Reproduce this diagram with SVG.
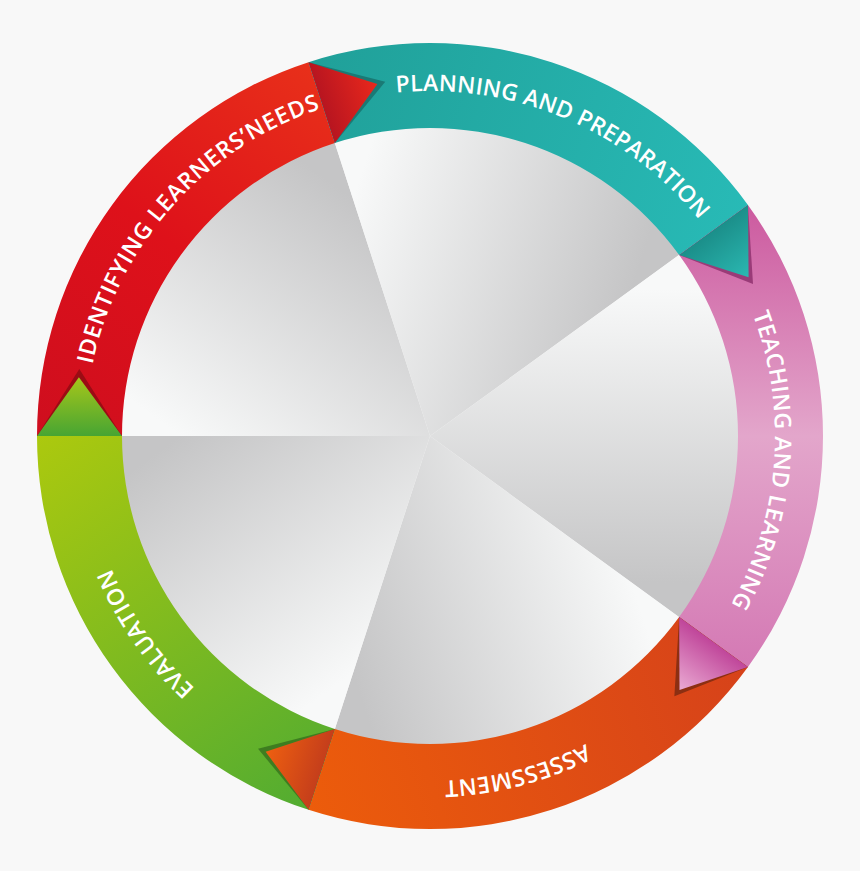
<svg xmlns="http://www.w3.org/2000/svg" width="860" height="871" viewBox="0 0 860 871">
<defs>
<style>
.lbl{font-family:"Open Sans","Liberation Sans",sans-serif;font-weight:600;font-size:23px;fill:#ffffff}
.wedge{stroke:none}
</style>
<linearGradient id="wg1" gradientUnits="userSpaceOnUse" x1="180" y1="436" x2="352.75" y2="198.23"><stop offset="0" stop-color="#f8f9f9"/><stop offset="1" stop-color="#c5c5c6"/></linearGradient>
<linearGradient id="wg2" gradientUnits="userSpaceOnUse" x1="352.75" y1="198.23" x2="632.25" y2="289.05"><stop offset="0" stop-color="#f8f9f9"/><stop offset="1" stop-color="#c5c5c6"/></linearGradient>
<linearGradient id="wg3" gradientUnits="userSpaceOnUse" x1="632.25" y1="289.05" x2="632.25" y2="582.95"><stop offset="0" stop-color="#f8f9f9"/><stop offset="1" stop-color="#c5c5c6"/></linearGradient>
<linearGradient id="wg4" gradientUnits="userSpaceOnUse" x1="632.25" y1="582.95" x2="352.75" y2="673.77"><stop offset="0" stop-color="#f8f9f9"/><stop offset="1" stop-color="#c5c5c6"/></linearGradient>
<linearGradient id="wg5" gradientUnits="userSpaceOnUse" x1="352.75" y1="673.77" x2="180" y2="436"><stop offset="0" stop-color="#f8f9f9"/><stop offset="1" stop-color="#c5c5c6"/></linearGradient>

<linearGradient id="gRed" gradientUnits="userSpaceOnUse" x1="40" y1="430" x2="320" y2="70"><stop offset="0" stop-color="#cf0e1e"/><stop offset="0.5" stop-color="#de111a"/><stop offset="1" stop-color="#e8301a"/></linearGradient>
<linearGradient id="gTeal" gradientUnits="userSpaceOnUse" x1="310" y1="62" x2="748" y2="205"><stop offset="0" stop-color="#20a099"/><stop offset="1" stop-color="#28bab6"/></linearGradient>
<linearGradient id="gPink" gradientUnits="userSpaceOnUse" x1="0" y1="205" x2="0" y2="667"><stop offset="0" stop-color="#cc5a9f"/><stop offset="0.5" stop-color="#e3a6cb"/><stop offset="1" stop-color="#d479b4"/></linearGradient>
<linearGradient id="gOrange" gradientUnits="userSpaceOnUse" x1="308" y1="809" x2="748" y2="667"><stop offset="0" stop-color="#ec5c0b"/><stop offset="1" stop-color="#d6421a"/></linearGradient>
<linearGradient id="gGreen" gradientUnits="userSpaceOnUse" x1="37" y1="436" x2="308" y2="809"><stop offset="0" stop-color="#acc90e"/><stop offset="1" stop-color="#52ac31"/></linearGradient>

<linearGradient id="tRed" gradientUnits="userSpaceOnUse" x1="321.69" y1="102.65" x2="377.38" y2="83.91"><stop offset="0" stop-color="#b81520"/><stop offset="1" stop-color="#e9281c"/></linearGradient>
<linearGradient id="tTeal" gradientUnits="userSpaceOnUse" x1="713.56" y1="229.98" x2="748.6" y2="277.15"><stop offset="0" stop-color="#1b8f8a"/><stop offset="1" stop-color="#2bb8b2"/></linearGradient>
<linearGradient id="tPink" gradientUnits="userSpaceOnUse" x1="713.56" y1="642.02" x2="679.52" y2="689.92"><stop offset="0" stop-color="#c0469a"/><stop offset="1" stop-color="#eaaad3"/></linearGradient>
<linearGradient id="tOrange" gradientUnits="userSpaceOnUse" x1="321.69" y1="769.35" x2="265.62" y2="751.78"><stop offset="0" stop-color="#c53e1b"/><stop offset="1" stop-color="#ee5f10"/></linearGradient>
<linearGradient id="tGreen" gradientUnits="userSpaceOnUse" x1="79.5" y1="436" x2="78.88" y2="377.24"><stop offset="0" stop-color="#47a533"/><stop offset="1" stop-color="#a6c61a"/></linearGradient>

<path id="p1" d="M 85.15 425.76 A 345 345 0 0 1 380.20 94.61"/>
<path id="p2" d="M 327.98 106.43 A 345 345 0 0 1 736.85 278.32"/>
<path id="p3" d="M 710.17 234.68 A 345 345 0 0 1 676.91 676.95"/>
<path id="p4" d="M 711.22 635.85 A 345 345 0 0 1 282.02 747.65"/>
<path id="p5" d="M 339.54 768.93 A 345 345 0 0 1 86.42 404.73"/>
</defs>

<rect x="0" y="0" width="860" height="871" fill="#f8f8f8"/>

<g id="pie">
<path class="wedge" fill="url(#wg1)" d="M 430 436 L 121 436 A 309 309 0 0 1 334.51 142.12 Z"/>
<path class="wedge" fill="url(#wg2)" d="M 430 436 L 334.51 142.12 A 309 309 0 0 1 679.99 254.37 Z"/>
<path class="wedge" fill="url(#wg3)" d="M 430 436 L 679.99 254.37 A 309 309 0 0 1 679.99 617.63 Z"/>
<path class="wedge" fill="url(#wg4)" d="M 430 436 L 679.99 617.63 A 309 309 0 0 1 334.51 729.88 Z"/>
<path class="wedge" fill="url(#wg5)" d="M 430 436 L 334.51 729.88 A 309 309 0 0 1 121 436 Z"/>
</g>

<g id="identifying">
<path fill="url(#gRed)" d="M 37 436 A 393 393 0 0 1 308.56 62.23 L 334.82 143.07 A 308 308 0 0 0 122 436 Z"/>
<text class="lbl"><textPath href="#p1" startOffset="50%" text-anchor="middle" textLength="357.7" lengthAdjust="spacing">IDENTIFYING LEARNERS’NEEDS</textPath></text>
</g>
<g id="planning">
<path fill="url(#gTeal)" d="M 308.56 62.23 A 393 393 0 0 1 747.94 205 L 679.18 254.96 A 308 308 0 0 0 334.82 143.07 Z"/>
<text class="lbl"><textPath href="#p2" startOffset="50%" text-anchor="middle" textLength="342" lengthAdjust="spacing">PLANNING AND PREPARATION</textPath></text>
</g>
<g id="teaching">
<path fill="url(#gPink)" d="M 747.94 205 A 393 393 0 0 1 747.94 667 L 679.18 617.04 A 308 308 0 0 0 679.18 254.96 Z"/>
<text class="lbl"><textPath href="#p3" startOffset="50%" text-anchor="middle" textLength="300.5" lengthAdjust="spacing">TEACHING AND LEARNING</textPath></text>
</g>
<g id="assessment">
<path fill="url(#gOrange)" d="M 747.94 667 A 393 393 0 0 1 308.56 809.77 L 334.82 728.93 A 308 308 0 0 0 679.18 617.04 Z"/>
<text class="lbl"><textPath href="#p4" startOffset="50%" text-anchor="middle" textLength="146.9" lengthAdjust="spacing">ASSESSMENT</textPath></text>
</g>
<g id="evaluation">
<path fill="url(#gGreen)" d="M 308.56 809.77 A 393 393 0 0 1 37 436 L 122 436 A 308 308 0 0 0 334.82 728.93 Z"/>
<text class="lbl"><textPath href="#p5" startOffset="50%" text-anchor="middle" textLength="147.5" lengthAdjust="spacing">EVALUATION</textPath></text>
</g>

<g id="connectors">
<polygon fill="#1a7a75" points="334.82,143.07 308.56,62.23 385.26,81.82"/>
<polygon fill="url(#tRed)" points="334.82,143.07 308.56,62.23 377.38,83.91"/>
<polygon fill="#9a3b78" points="679.18,254.96 747.94,205 753.02,284"/>
<polygon fill="url(#tTeal)" points="679.18,254.96 747.94,205 748.60,277.15"/>
<polygon fill="#8c2f12" points="679.18,617.04 747.94,667 674.38,696.24"/>
<polygon fill="url(#tPink)" points="679.18,617.04 747.94,667 679.52,689.92"/>
<polygon fill="#3e7d20" points="334.82,728.93 308.56,809.77 258.02,748.84"/>
<polygon fill="url(#tOrange)" points="334.82,728.93 308.56,809.77 265.62,751.78"/>
<polygon fill="#9b0c14" points="122,436 37,436 79.32,369.11"/>
<polygon fill="url(#tGreen)" points="122,436 37,436 78.88,377.24"/>
</g>
</svg>
